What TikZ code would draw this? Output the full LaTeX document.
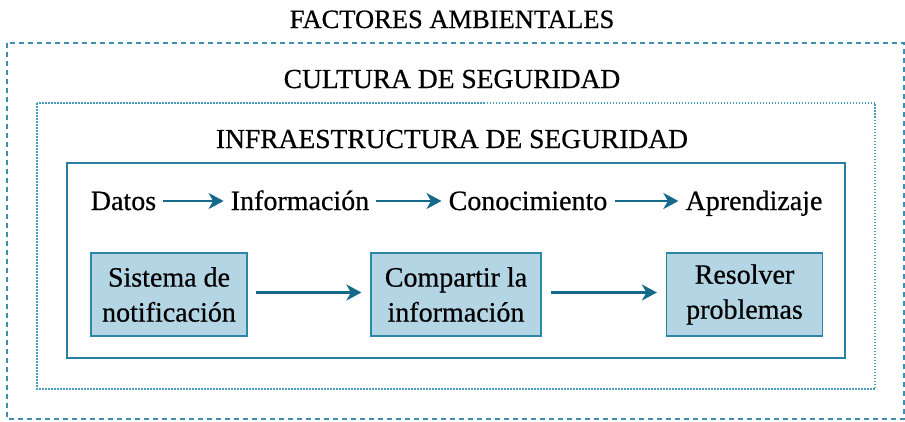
\documentclass[tikz,border=0pt]{standalone}
\usepackage{fontspec}
\setmainfont[FakeBold=0.6]{Liberation Serif}
\usetikzlibrary{arrows.meta}
\definecolor{outerc}{HTML}{3A90AE}
\definecolor{dotc}{HTML}{4A9DBB}
\definecolor{framec}{HTML}{2A7FA0}
\definecolor{arrc}{HTML}{156A8C}
\definecolor{boxfill}{HTML}{B4D5E4}
\definecolor{boxline}{HTML}{2F85A8}
\tikzset{
  txt/.style={inner sep=0pt, anchor=base, font=\fontsize{28}{36}\selectfont},
  ttl/.style={inner sep=0pt, anchor=base, font=\fontsize{27.5}{33}\selectfont},
  stepbox/.style={draw=boxline, line width=1.2pt, fill=boxfill, minimum width=156pt, minimum height=83pt, align=center, inner sep=0pt, font=\fontsize{28}{35}\selectfont},
  arr/.style={draw=arrc, line width=2.4pt, -{Stealth[length=15pt, width=16pt, inset=4.5pt]}},
}
\begin{document}
\begin{tikzpicture}[x=1pt, y=-1pt]
\useasboundingbox (0,0) rectangle (905,421);
% frames
\draw[outerc, line width=1.2pt, dash pattern=on 5pt off 4pt] (7,43) rectangle (904,419);
\draw[dotc, line width=1.3pt, dash pattern=on 1.5pt off 1.5pt] (37,103) rectangle (875,389);
\draw[framec, line width=1.3pt] (67,163) rectangle (845,358);
% titles
\node[ttl, font=\fontsize{26.5}{32}\selectfont] (fa) at (452,28) {FACTORES AMBIENTALES};
\node[ttl] (cs) at (452,88) {CULTURA DE SEGURIDAD};
\node[ttl] (is) at (452,148) {INFRAESTRUCTURA DE SEGURIDAD};
% top row
\node[txt] (datos) at (123.5,210) {Datos};
\node[txt] (info) at (300,210) {Información};
\node[txt] (cono) at (528,210) {Conocimiento};
\node[txt] (apre) at (754,210) {Aprendizaje};
\draw[arr, shorten <=7pt, shorten >=7pt] ([yshift=9pt]datos.base east) -- ([yshift=9pt]info.base west);
\draw[arr, shorten <=7pt, shorten >=7pt] ([yshift=9pt]info.base east) -- ([yshift=9pt]cono.base west);
\draw[arr, shorten <=7pt, shorten >=7pt] ([yshift=9pt]cono.base east) -- ([yshift=9pt]apre.base west);
% boxes
\node[stepbox] (s1) at (169,294.5) {Sistema de\\notificación};
\node[stepbox, minimum width=170pt] (s2) at (456,294.5) {Compartir la\\información};
\node[stepbox] (s3) at (744.5,294.5) {Resolver\\problemas};
\draw[arr, shorten <=8pt, shorten >=9pt] ([yshift=2pt]s1.east) -- ([yshift=2pt]s2.west);
\draw[arr, shorten <=9pt, shorten >=9pt] ([yshift=2pt]s2.east) -- ([yshift=2pt]s3.west);
\end{tikzpicture}
\end{document}
